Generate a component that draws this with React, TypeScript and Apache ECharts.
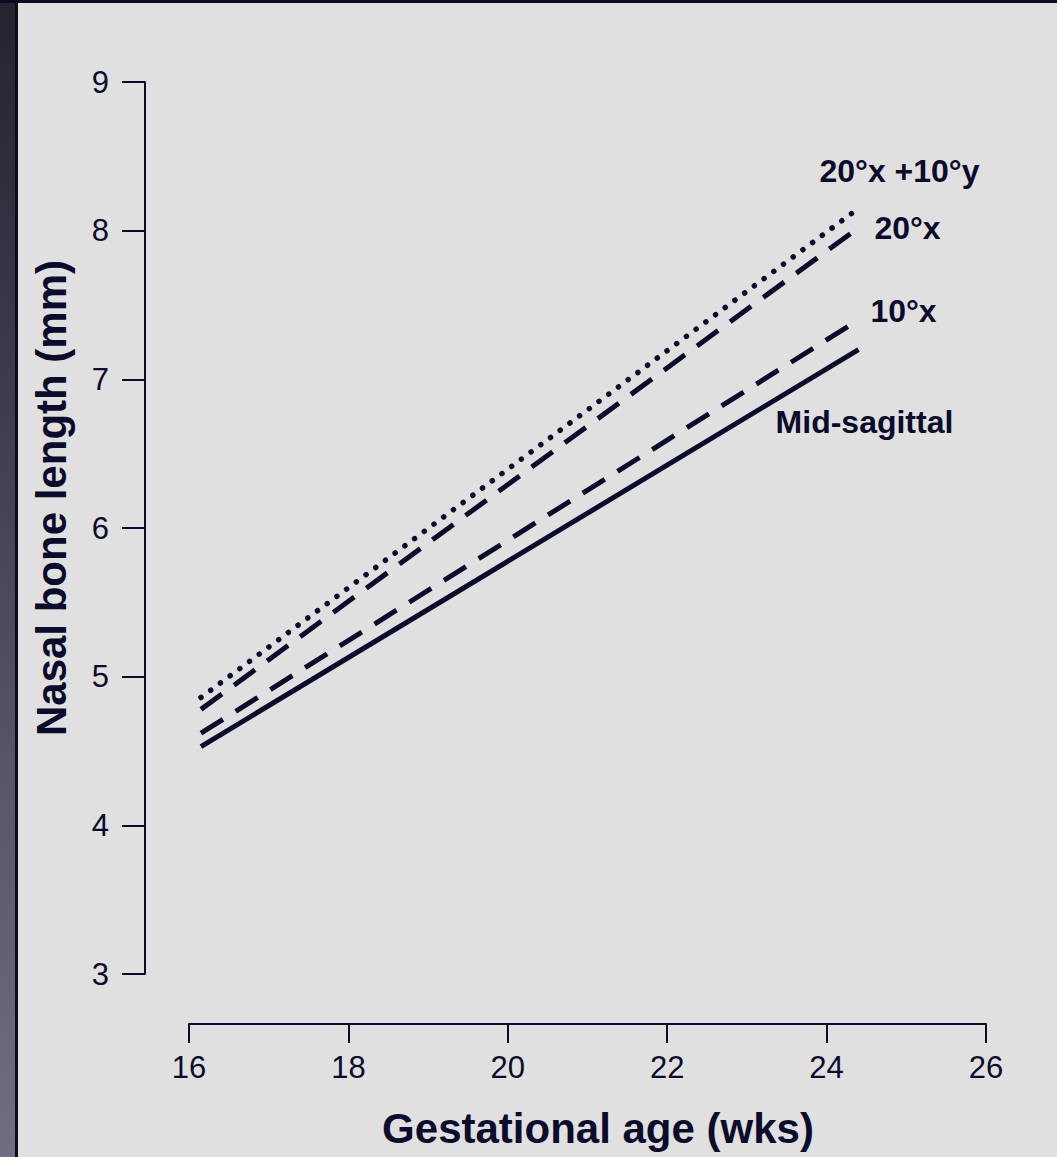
import React, { useEffect, useRef } from "react";
import * as echarts from "echarts";

// Gestational age (weeks) at the start and end of each regression line
const weeks = [16.15, 24.4];

// Nasal bone length (mm) for each plane of measurement
const midSagittal = [4.53, 7.2];
const tenX = [4.62, 7.4];
const twentyX = [4.78, 8.02];
const twentyXTenY = [4.86, 8.15];

const seriesNames = ["Mid-sagittal", "10°x", "20°x", "20°x +10°y"];

const xTicks = { min: 16, max: 26, interval: 2 };
const yTicks = { min: 3, max: 9, interval: 1 };

const INK = "#0b0b2b";
const FONT = "'Liberation Sans', Arial, Helvetica, sans-serif";

const pairs = (ys: number[]) => weeks.map((w, i) => [w, ys[i]]);

export default function App() {
  const ref = useRef<HTMLDivElement>(null);

  useEffect(() => {
    if (!ref.current) return;
    const chart = echarts.init(ref.current, undefined, { renderer: "svg" });

    const labelStyle = (offset: number[], align: string) => ({
      show: true,
      formatter: "{a}",
      color: INK,
      fontFamily: FONT,
      fontWeight: "bold" as const,
      fontSize: 32,
      distance: 0,
      align,
      verticalAlign: "middle",
      offset,
    });

    const lineSeries = (
      name: string,
      ys: number[],
      type: any,
      width: number,
      cap: string,
      offset: number[],
      align: string
    ) => ({
      name,
      type: "line",
      data: pairs(ys),
      showSymbol: false,
      symbol: "none",
      lineStyle: { color: INK, width, type, cap },
      endLabel: labelStyle(offset, align),
      silent: true,
    });

    chart.setOption({
      animation: false,
      backgroundColor: "#e0e0e0",
      textStyle: { fontFamily: FONT, color: INK },
      grid: { left: 189, right: 71, top: 82, bottom: 183 },
      xAxis: {
        type: "value",
        min: xTicks.min,
        max: xTicks.max,
        interval: xTicks.interval,
        offset: 50,
        name: "Gestational age (wks)",
        nameLocation: "middle",
        nameGap: 83,
        nameTextStyle: {
          color: INK,
          fontFamily: FONT,
          fontWeight: "bold",
          fontSize: 42,
          padding: [0, 0, 0, 21],
        },
        axisLine: { show: true, lineStyle: { color: INK, width: 2 } },
        axisTick: { show: true, length: 19, lineStyle: { color: INK, width: 2 } },
        axisLabel: { color: INK, fontFamily: FONT, fontSize: 31, margin: 28 },
        splitLine: { show: false },
      },
      yAxis: {
        type: "value",
        min: yTicks.min,
        max: yTicks.max,
        interval: yTicks.interval,
        offset: 44,
        name: "Nasal bone length (mm)",
        nameLocation: "middle",
        nameGap: 73,
        nameTextStyle: {
          color: INK,
          fontFamily: FONT,
          fontWeight: "bold",
          fontSize: 42,
          padding: [0, 0, 0, 60],
        },
        axisLine: { show: true, lineStyle: { color: INK, width: 2 } },
        axisTick: { show: true, length: 23, lineStyle: { color: INK, width: 2 } },
        axisLabel: { color: INK, fontFamily: FONT, fontSize: 31, margin: 36 },
        splitLine: { show: false },
      },
      series: [
        lineSeries(seriesNames[0], midSagittal, "solid", 5, "butt", [6, 72], "center"),
        lineSeries(seriesNames[1], tenX, [26, 15], 5, "butt", [12, -9], "left"),
        lineSeries(seriesNames[2], twentyX, [26, 15], 5, "butt", [16, 0], "left"),
        lineSeries(seriesNames[3], twentyXTenY, [0.1, 12], 5.5, "round", [41, -37], "center"),
      ],
      graphic: [
        {
          type: "rect",
          shape: { x: 0, y: 0, width: 15, height: 1157 },
          style: {
            fill: new echarts.graphic.LinearGradient(0, 0, 0, 1, [
              { offset: 0, color: "#24232f" },
              { offset: 1, color: "#706e82" },
            ]),
          },
          silent: true,
        },
        {
          type: "rect",
          shape: { x: 15, y: 0, width: 3, height: 1157 },
          style: { fill: "#0a0a22" },
          silent: true,
        },
        {
          type: "rect",
          shape: { x: 0, y: 0, width: 1057, height: 3 },
          style: { fill: "#0a0a22" },
          silent: true,
        },
      ],
    });

    return () => chart.dispose();
  }, []);

  return (
    <div
      ref={ref}
      style={{ position: "fixed", left: 0, top: 0, width: 1057, height: 1157 }}
    />
  );
}
